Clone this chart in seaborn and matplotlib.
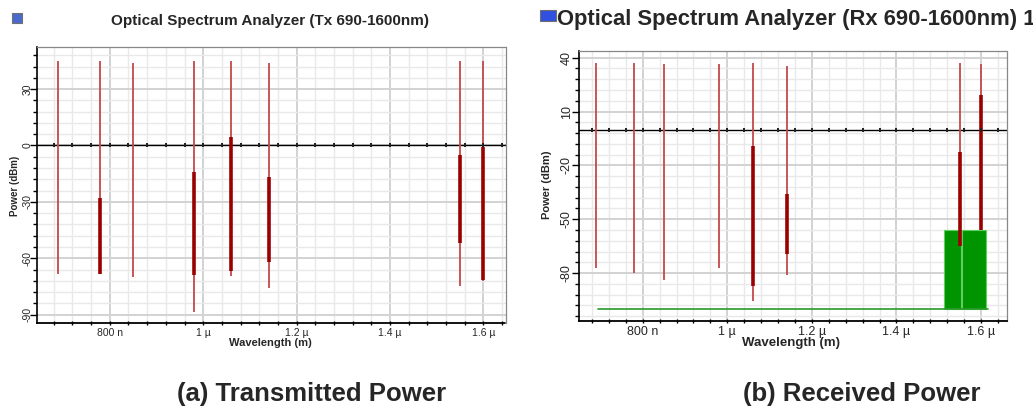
import numpy as np
import pandas as pd
import seaborn as sns
import matplotlib
matplotlib.use("Agg")
import matplotlib.pyplot as plt
from matplotlib.patches import Rectangle
from matplotlib.ticker import FixedLocator, MultipleLocator

# Canales (longitud de onda en nm)
wl = [690, 780, 850, 980, 1060, 1140, 1550, 1600]

# Potencia transmitida (dBm): pico, piso, y tramo grueso de cada canal
tx_peak = [45, 45, 44, 45, 45, 44, 45, 45]
tx_floor = [-68.5, -68.5, -70, -88.5, -69.5, -76, -74.5, -72]
tx_body_top = [np.nan, -28, np.nan, -14, 4.5, -17, -5, -1]
tx_body_bottom = [np.nan, -68.5, np.nan, -69, -66.5, -62, -52, -71.5]

# Potencia recibida (dBm)
rx_peak = [37, 37.2, 36.6, 36.6, 37.2, 35.4, 36.9, 36.6]
rx_floor = [-77.4, -80.2, -84, -77.4, -95.4, -81, -65, -56]
rx_body_top = [np.nan, np.nan, np.nan, np.nan, -9, -36, -12.6, 19]
rx_body_bottom = [np.nan, np.nan, np.nan, np.nan, -87, -69.4, -65, -56]

# Ruido en el receptor
noise_wl = [695, 1616]
noise_level = [-100, -100]
ase_start = [1512, 1555]
ase_end = [1553, 1611]
ase_top = -55.7

# Ejes
xtick_vals = [800, 1000, 1200, 1400, 1600]
xtick_labels = ["800 n", "1 µ", "1.2 µ", "1.4 µ", "1.6 µ"]
tx_yticks = [30, 0, -30, -60, -90]
rx_yticks = [40, 10, -20, -50, -80]

THIN = "#c24a4a"
DARK = "#9a0000"
GREEN = "#009400"

sns.set_theme(style="white")
plt.rcParams["font.family"] = ["Liberation Sans", "DejaVu Sans"]
plt.rcParams["axes.unicode_minus"] = False

fig = plt.figure(figsize=(10.33, 4.08), dpi=100)
ax1 = fig.add_axes([0.0358, 0.2083, 0.4538, 0.6757])
ax2 = fig.add_axes([0.5608, 0.2140, 0.4143, 0.6617])


def estilo(ax, xlim, ylim, yticks, yoff, fs, ypad):
    ax.set_xlim(xlim)
    ax.set_ylim(ylim)
    ax.xaxis.set_major_locator(FixedLocator(xtick_vals))
    ax.set_xticklabels(xtick_labels)
    ax.xaxis.set_minor_locator(MultipleLocator(40))
    ax.yaxis.set_major_locator(FixedLocator(yticks))
    ax.set_yticklabels([str(v) for v in yticks])
    ax.yaxis.set_minor_locator(MultipleLocator(6, offset=yoff))
    ax.grid(which="major", color="#d2d2d2", lw=1.4, zorder=0)
    ax.grid(which="minor", color="#e9e9e9", lw=1.0, zorder=0)
    ax.set_axisbelow(True)
    ax.tick_params(axis="y", which="major", direction="out", length=5, width=1,
                   color="black", labelsize=fs, labelrotation=90, left=True, pad=ypad)
    ax.tick_params(axis="y", which="minor", direction="out", length=3, width=1,
                   color="black", left=True)
    ax.tick_params(axis="x", which="both", direction="inout", length=3, width=1,
                   color="black", labelsize=fs, bottom=True, pad=2)
    plt.setp(ax.get_yticklabels(), ha="center", va="center")
    ax.spines["left"].set_color("black")
    ax.spines["left"].set_linewidth(1.2)
    ax.spines["bottom"].set_color("black")
    ax.spines["bottom"].set_linestyle((0, (1, 1)))
    ax.spines["bottom"].set_linewidth(1.3)
    for s in ["top", "right"]:
        ax.spines[s].set_color("#888888")
        ax.spines[s].set_linestyle((0, (1, 1)))
        ax.spines[s].set_linewidth(0.9)
    # linea de 0 dBm con marcas
    ax.axhline(0, color="black", lw=1, zorder=2)
    frac = (0 - ylim[0]) / (ylim[1] - ylim[0])
    sec = ax.secondary_xaxis(frac)
    sec.set_zorder(6)
    sec.xaxis.set_major_locator(MultipleLocator(40))
    sec.tick_params(axis="x", which="major", top=True, bottom=True,
                    direction="inout", length=3.5, width=1.4, color="#222222",
                    labelbottom=False, labeltop=False)
    sec.spines["bottom"].set_visible(False)
    sec.spines["top"].set_visible(False)
    ax.set_xlabel("")
    ax.set_ylabel("")


def espectro(ax, peak, floor, btop, bbot):
    ax.vlines(wl, floor, peak, color=THIN, lw=1.3, zorder=3)
    ax.vlines(wl, bbot, btop, color=DARK, lw=2.6, zorder=4)


estilo(ax1, (644, 1648), (-94.4, 52.2), tx_yticks, 0, 7.5, 2)
espectro(ax1, tx_peak, tx_floor, tx_body_top, tx_body_bottom)

estilo(ax2, (650, 1662), (-106.5, 43.9), rx_yticks, 4, 9, 4)
for s, e in zip(ase_start, ase_end):
    ax2.fill_between([s, e], noise_level[0], ase_top, facecolor=GREEN,
                     edgecolor="#5fcf5f", lw=0.8, zorder=2.5)
sns.lineplot(x=noise_wl, y=noise_level, ax=ax2, color="#2a9a2a", lw=1.2, zorder=2.6)
espectro(ax2, rx_peak, rx_floor, rx_body_top, rx_body_bottom)
ax2.set_xlabel("")
ax2.set_ylabel("")

# Titulos y etiquetas
fig.text(0.2614, 0.9485, "Optical Spectrum Analyzer (Tx 690-1600nm)",
         ha="center", va="center", fontsize=11, fontweight="bold")
fig.text(0.5390, 0.951, "Optical Spectrum Analyzer (Rx 690-1600nm) 1",
         ha="left", va="center", fontsize=15.8, fontweight="bold")
fig.text(0.0145, 0.545, "Power (dBm)", rotation=90, ha="center", va="center",
         fontsize=7, fontweight="bold")
fig.text(0.5295, 0.548, "Power (dBm)", rotation=90, ha="center", va="center",
         fontsize=8, fontweight="bold")
fig.text(0.262, 0.159, "Wavelength (m)", ha="center", va="center",
         fontsize=8, fontweight="bold")
fig.text(0.766, 0.160, "Wavelength (m)", ha="center", va="center",
         fontsize=9.5, fontweight="bold")

fig.text(0.302, 0.034, "(a) Transmitted Power", ha="center", va="center",
         fontsize=18.5, fontweight="bold")
fig.text(0.834, 0.034, "(b) Received Power", ha="center", va="center",
         fontsize=18.5, fontweight="bold")

# iconos
fig.patches.append(Rectangle((12 / 1033, 1 - 23 / 408), 10 / 1033, 10 / 408,
                             transform=fig.transFigure, facecolor="#4a6ad0",
                             edgecolor="#707070", lw=0.8))
fig.patches.append(Rectangle((540 / 1033, 1 - 21 / 408), 16 / 1033, 11 / 408,
                             transform=fig.transFigure, facecolor="#3050e0",
                             edgecolor="#707070", lw=0.8))

fig.savefig("out.png", dpi=100)
